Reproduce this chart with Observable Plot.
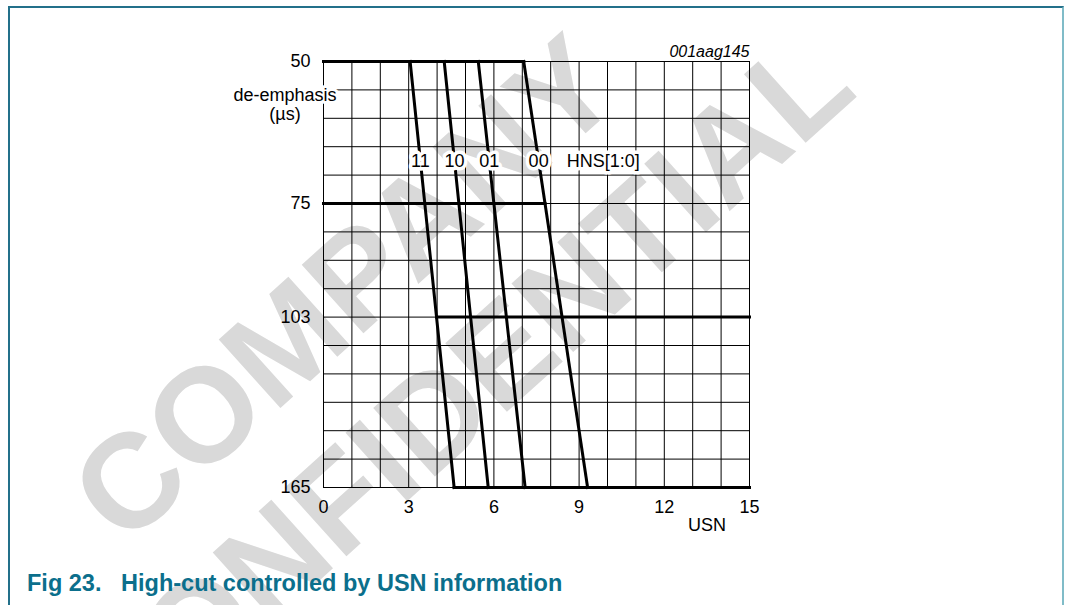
<!DOCTYPE html>
<html>
<head>
<meta charset="utf-8">
<script src="https://cdn.jsdelivr.net/npm/d3@7"></script>
<script src="https://cdn.jsdelivr.net/npm/@observablehq/plot@0.6"></script>
<style>
html, body { margin: 0; padding: 0; background: #fff; }
#page { position: relative; width: 1066px; height: 605px; overflow: hidden; background: #fff; font-family: "Liberation Sans", Arial, sans-serif; }
#frame { position: absolute; left: 8px; top: 6px; width: 1056px; height: 700px; box-sizing: border-box;
  border-top: 2px solid #23708a; border-left: 2px solid #23708a; border-right: 2px solid #80bcc8; }
#wm { position: absolute; left: 0; top: 0; }
#chart { position: absolute; left: 0; top: 0; }
#caption { position: absolute; left: 27px; top: 572px; font-size: 23.5px; line-height: 1; font-weight: bold; color: #0b6f8c; white-space: pre; }
</style>
</head>
<body>
<div id="page">
  <div id="frame"></div>
  <svg id="wm" width="1066" height="605"></svg>
  <div id="chart"></div>
  <div id="caption"></div>
</div>
<script>
// ---- data ----
const hnsSettings = ["11", "10", "01", "00"];
const usnAt50us = [3.05, 4.25, 5.45, 7.05];   // USN where each HNS curve leaves 50 µs
const usnAt165us = [4.6, 5.8, 7.1, 9.3];      // USN where each HNS curve reaches 165 µs
const deEmphasisLevels = [50, 75, 103, 165];
const levelUsnFrom = [0, 0, 3.98, 4.6];
const levelUsnTo = [7.05, 7.8, 15, 15];
const xTicks = [0, 3, 6, 9, 12, 15];
const yTicks = [50, 75, 103, 165];
const figureCode = "001aag145";
const captionText = "Fig 23.   High-cut controlled by USN information";
const watermarkLines = ["COMPANY", "CONFIDENTIAL"];

// ---- layout: the de-emphasis axis is drawn on an even grid of 15 rows ----
const tickRows = [0, 5, 9, 15];
const valueToRow = d3.scaleLinear().domain(yTicks).range(tickRows);
const rowToValue = d3.scaleLinear().domain(tickRows).range(yTicks);
const yGrid = d3.range(16).map(rowToValue);
const xGrid = d3.range(16);
const labelRow = 3.5;

const curves = hnsSettings.map((h, i) => ({h, x1: usnAt50us[i], y1: 50, x2: usnAt165us[i], y2: 165}));
const levels = deEmphasisLevels.map((v, j) => ({x1: levelUsnFrom[j], x2: levelUsnTo[j], y: v}));
const labels = hnsSettings.map((h, i) => ({
  h,
  x: usnAt50us[i] + (usnAt165us[i] - usnAt50us[i]) * labelRow / 15,
  y: rowToValue(labelRow)
}));

// ---- watermark ----
const wm = d3.select("#wm");
const wmPos = [[343, 287], [457, 392]];
watermarkLines.forEach((t, i) => {
  wm.append("text")
    .attr("transform", `translate(${wmPos[i][0]},${wmPos[i][1]}) rotate(-42)`)
    .attr("text-anchor", "middle")
    .attr("dy", "0.358em")
    .attr("font-family", "'Liberation Sans', Arial, sans-serif")
    .attr("font-weight", "bold")
    .attr("font-size", 134)
    .attr("fill", "#d9d9d9")
    .text(t);
});

// ---- chart ----
const heavy = {stroke: "#000", strokeWidth: 3, strokeLinecap: "square"};
const chart = Plot.plot({
  width: 1066,
  height: 560,
  marginLeft: 323,
  marginRight: 317,
  marginTop: 61,
  marginBottom: 73,
  x: {domain: [0, 15]},
  y: {transform: valueToRow, domain: [0, 15], range: [61, 487], axis: null},
  style: {background: "transparent", fontFamily: "'Liberation Sans', Arial, sans-serif", fontSize: "18px", color: "#000", overflow: "visible"},
  marks: [
    Plot.ruleX(xGrid, {stroke: "#000", strokeWidth: 1}),
    Plot.ruleY(yGrid, {stroke: "#000", strokeWidth: 1}),
    Plot.link(levels, {x1: "x1", x2: "x2", y1: "y", y2: "y", ...heavy}),
    Plot.link(curves, {x1: "x1", y1: "y1", x2: "x2", y2: "y2", ...heavy}),
    Plot.text(labels, {x: "x", y: "y", text: "h", fontSize: 18, fill: "#000", stroke: "white", strokeWidth: 7, lineAnchor: "middle"}),
    Plot.text(["HNS[1:0]"], {x: 9.85, y: rowToValue(labelRow), text: d => d, fontSize: 18, fill: "#000", stroke: "white", strokeWidth: 7, lineAnchor: "middle"}),
    Plot.text(["de-emphasis\n(µs)"], {x: 0, y: 50, dx: -38.5, dy: 42.6, text: d => d, fontSize: 18, lineHeight: 1.11, fill: "#000", stroke: "white", strokeWidth: 6, lineAnchor: "middle", textAnchor: "middle"}),
    Plot.text(["USN"], {x: 13.5, y: 165, dy: 37.3, text: d => d, fontSize: 18, fill: "#000", lineAnchor: "middle"}),
    Plot.text([figureCode], {x: 15, y: 50, dy: -9.5, text: d => d, fontSize: 16, fontStyle: "italic", textAnchor: "end", fill: "#000", lineAnchor: "middle"}),
    Plot.axisX({ticks: xTicks, tickSize: 0, tickPadding: 13, label: null, fontSize: 18}),
    // de-emphasis tick labels, placed through the (transformed) y scale
    Plot.text(yTicks, {x: 0, y: d => d, text: d => String(d), dx: -13, textAnchor: "end", lineAnchor: "middle", fontSize: 18, fill: "#000"})
  ]
});
document.getElementById("chart").appendChild(chart);
document.getElementById("caption").textContent = captionText;
</script>
</body>
</html>
